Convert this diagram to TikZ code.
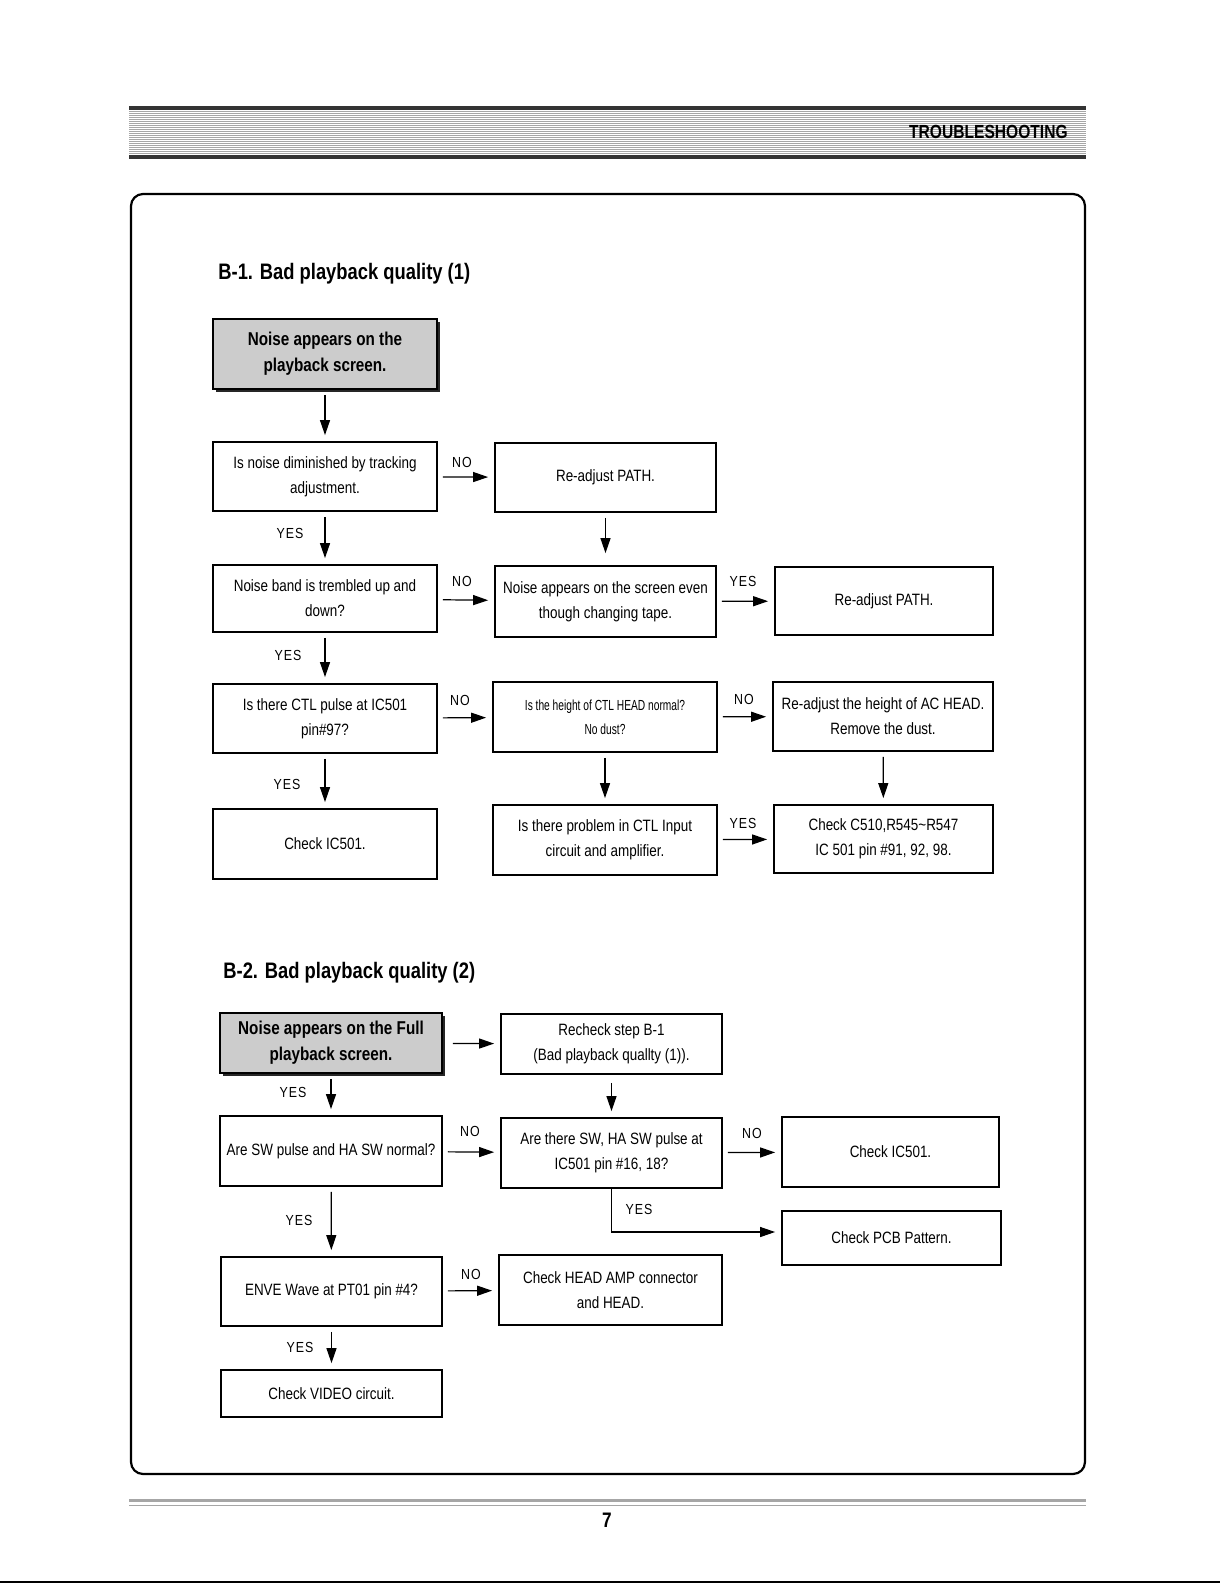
\documentclass[tikz,border=0pt]{standalone}
\usepackage{fontspec}
\setmainfont{Liberation Sans}[FakeStretch=0.82]
\newfontfamily\lblfam{Liberation Sans}[FakeStretch=0.85,LetterSpace=7]
\newfontfamily\narrowfam{Liberation Sans}[FakeStretch=0.7]
\usetikzlibrary{arrows.meta,calc,shadows}
\begin{document}
\begin{tikzpicture}[x=0.5pt,y=-0.5pt,
 box/.style={draw,line width=0.9pt,align=center,inner sep=1pt,font=\fontsize{8.2}{12.6}\selectfont},
 gbox/.style={box,fill=black!20,font=\fontsize{9.3}{13}\bfseries,drop shadow={shadow xshift=1.6pt,shadow yshift=-1.6pt,fill=black!85,opacity=1}},
 sz/.style 2 args={minimum width=#1*0.5pt,minimum height=#2*0.5pt},
 arr/.style={line width=0.6pt,-{Triangle[length=7.5pt,width=5pt]},shorten <=2.5pt,shorten >=3pt},
 lbl/.style={font=\lblfam\fontsize{7.3}{9}\selectfont,inner sep=0pt},
 ttl/.style={anchor=west,inner sep=0pt,font=\fontsize{11.2}{13}\bfseries}]
\useasboundingbox (0,0) rectangle (1220,1583);
% header
\foreach \yy in {112,114,...,154} \draw[black!35,line width=0.5pt] (129,\yy)--(1086,\yy);
\draw[black!80,line width=2pt] (129,108.5)--(1086,108.5);
\draw[black!80,line width=2pt] (129,157)--(1086,157);
\node[anchor=east,inner sep=0pt,font=\fontsize{9.5}{11}\bfseries] (hdr) at (1068,132) {TROUBLESHOOTING};
% frame
\draw[line width=1.1pt,rounded corners=6pt] (131,194) rectangle (1085,1474);
% footer
\draw[black!35,line width=1.6pt] (129,1500.5)--(1086,1500.5);
\draw[black!35,line width=0.5pt] (129,1505.5)--(1086,1505.5);
\node[font=\fontsize{10.5}{12}\bfseries,inner sep=0pt] (pg) at (607,1520) {7};
\draw[line width=1pt] (0,1582)--(1220,1582);

% ---------- B-1 ----------
\node[ttl] (t1) at (218,274) {B-1. Bad playback quality (1)};
\node[gbox,sz={224}{70}] (n1) at (325,354) {Noise appears on the\\playback screen.};
\node[box,sz={224}{69}] (n2) at (325,476.5) {Is noise diminished by tracking\\adjustment.};
\node[box,sz={221}{69}] (n3) at (605.5,477.5) {Re-adjust PATH.};
\node[box,sz={224}{67}] (n4) at (325,598.5) {Noise band is trembled up and\\down?};
\node[box,sz={221}{71}] (n5) at (605.5,601.5) {Noise appears on the screen even\\though changing tape.};
\node[box,sz={218}{68}] (n6) at (884,601) {Re-adjust PATH.};
\node[box,sz={224}{69}] (n7) at (325,718.5) {Is there CTL pulse at IC501\\pin\#97?};
\node[box,sz={224}{70},font=\narrowfam\fontsize{7.3}{12}\selectfont] (n8) at (605,717) {Is the height of CTL HEAD normal?\\No dust?};
\node[box,sz={220}{69}] (n9) at (883,716.5) {Re-adjust the height of AC HEAD.\\Remove the dust.};
\node[box,sz={224}{70}] (n10) at (325,844) {Check IC501.};
\node[box,sz={224}{70}] (n11) at (605,840) {Is there problem in CTL Input\\circuit and amplifier.};
\node[box,sz={219}{68}] (n12) at (883.5,839) {Check C510,R545\textasciitilde R547\\IC 501 pin \#91, 92, 98.};

\draw[arr] (n1) -- (n2);
\draw[arr] (n2) -- (n3);
\draw[arr] (n2) -- (n4);
\draw[arr,shorten >=6pt] (n3) -- (n5);
\draw[arr] (n4) -- (n5);
\draw[arr] (n5) -- (n6);
\draw[arr] (n4) -- (n7);
\draw[arr] (n7) -- (n8);
\draw[arr] (n8) -- (n9);
\draw[arr] (n7) -- (n10);
\draw[arr] (n8) -- (n11);
\draw[arr] (n9) -- (n12);
\draw[arr] (n11) -- (n12);

\node[lbl] (l1) at (462,462) {NO};
\node[lbl] (l2) at (290,533) {YES};
\node[lbl] (l3) at (462,581) {NO};
\node[lbl] (l4) at (743,581) {YES};
\node[lbl] (l5) at (288,655) {YES};
\node[lbl] (l6) at (460,700) {NO};
\node[lbl] (l7) at (744,699) {NO};
\node[lbl] (l8) at (287,784) {YES};
\node[lbl] (l9) at (743,823) {YES};

% ---------- B-2 ----------
\node[ttl] (t2) at (223,973) {B-2. Bad playback quality (2)};
\node[gbox,sz={222}{60}] (m1) at (331,1043) {Noise appears on the Full\\playback screen.};
\node[box,sz={221}{60}] (m2) at (611.5,1044) {Recheck step B-1\\(Bad playback quallty (1)).};
\node[box,sz={222}{70}] (m3) at (331,1151) {Are SW pulse and HA SW normal?};
\node[box,sz={221}{70}] (m4) at (611.5,1153) {Are there SW, HA SW pulse at\\IC501 pin \#16, 18?};
\node[box,sz={217}{70}] (m5) at (890.5,1152) {Check IC501.};
\node[box,sz={219}{54}] (m6) at (891.5,1238) {Check PCB Pattern.};
\node[box,sz={221}{69}] (m7) at (331.5,1291.5) {ENVE Wave at PT01 pin \#4?};
\node[box,sz={223}{70}] (m8) at (610.5,1290) {Check HEAD AMP connector\\and HEAD.};
\node[box,sz={221}{47}] (m9) at (331.5,1393.5) {Check VIDEO circuit.};

\draw[arr,shorten <=5pt] (m1) -- (m2);
\draw[arr] (m1) -- (m3);
\draw[arr,shorten <=4pt] (m2) -- (m4);
\draw[arr] (m3) -- (m4);
\draw[arr] (m4) -- (m5);
\draw[arr,shorten <=0pt] (m4.south) |- ($(m6.west)+(0,-6)$);
\draw[arr] (m3) -- (m7);
\draw[arr] (m7) -- (m8);
\draw[arr] (m7) -- (m9);

\node[lbl] (k1) at (293,1092) {YES};
\node[lbl] (k2) at (470,1131) {NO};
\node[lbl] (k3) at (752,1133) {NO};
\node[lbl] (k4) at (639,1209) {YES};
\node[lbl] (k5) at (299,1220) {YES};
\node[lbl] (k6) at (471,1274) {NO};
\node[lbl] (k7) at (300,1347) {YES};
\end{tikzpicture}
\end{document}
